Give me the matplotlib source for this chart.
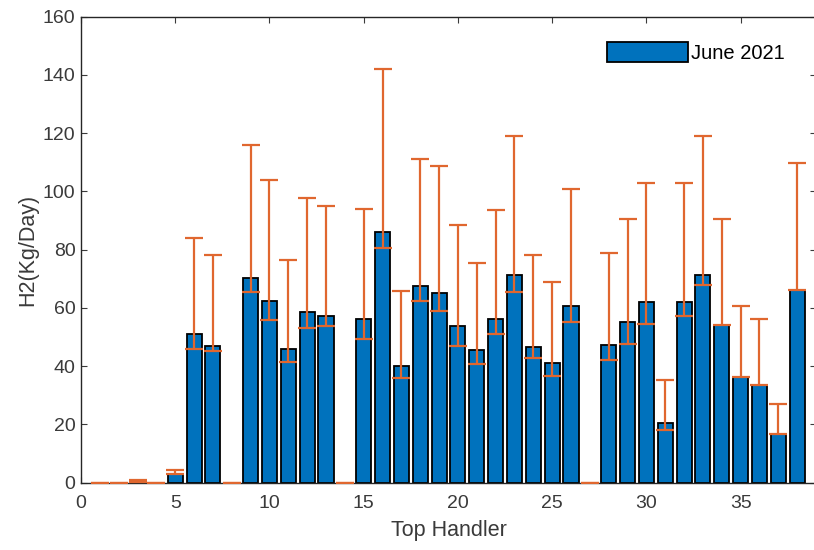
import numpy as np
import matplotlib
matplotlib.use("Agg")
import matplotlib.pyplot as plt

# handler index, mean H2 and the error-bar lower/upper bounds
handlers = np.arange(1, 39)
h2 = [0, 0, 0.6, 0, 3.0, 51, 47, 0, 70.4, 62.5,
      46, 58.6, 57.1, 0, 56.3, 86.1, 39.9, 67.4, 65.2, 53.7,
      45.4, 56.3, 71.4, 46.7, 41.2, 60.5, 0, 47.4, 55, 61.9,
      20.6, 61.9, 71.4, 54.2, 36.4, 33.6, 16.5, 66]
low = [0, -0.3, 0.3, -0.3, 2.8, 46, 45, -0.3, 65.3, 55.7,
       41.3, 53, 53.7, -0.3, 49.4, 80.6, 35.8, 62.5, 59, 46.8,
       40.6, 50.9, 65.3, 42.7, 36.5, 55, -0.3, 42, 47.5, 54.4,
       17.9, 57.1, 68, 54.2, 36.4, 33.6, 16.5, 66]
high = [0, 0, 0.9, 0, 4.3, 84, 78.3, 0, 116, 103.8,
        76.3, 97.6, 94.9, 0, 94.1, 142.1, 65.9, 111.2, 108.6, 88.6,
        75.5, 93.5, 118.9, 78.3, 68.8, 100.9, 0, 79, 90.6, 103,
        35.1, 103, 118.9, 90.6, 60.5, 56.3, 26.8, 109.9]

h2 = np.array(h2)
yerr = [np.clip(h2 - np.array(low), 0, None), np.clip(np.array(high) - h2, 0, None)]

plt.rcParams["font.family"] = ["Liberation Sans", "DejaVu Sans"]
txt_col = "#3a3a3a"

fig = plt.figure(figsize=(8.14, 5.5), dpi=100)
ax = fig.add_axes([0.0995, 0.1227, 0.903, 0.847])

ax.bar(handlers, h2, width=0.8, color="#0072BD", edgecolor="black",
       linewidth=1.3, label="June 2021", zorder=2)
ax.errorbar(handlers, h2, yerr=yerr, fmt="none", ecolor="#E0672F",
            elinewidth=1.6, capsize=6.5, capthick=1.6, zorder=3)

ax.set_xlim(0, 39)
ax.set_ylim(0, 160)
ax.set_xticks(np.arange(0, 40, 5))
ax.set_yticks(np.arange(0, 161, 20))
ax.tick_params(direction="in", top=True, right=True, labelsize=14,
               colors=txt_col, length=4, width=0.8)
ax.tick_params(axis="x", pad=9)
ax.tick_params(axis="y", pad=4)
for s in ax.spines.values():
    s.set_color("#262626")
    s.set_linewidth(1.0)

ax.set_xlabel("Top Handler", fontsize=15.5, color=txt_col, labelpad=6)
ax.set_ylabel("H2(Kg/Day)", fontsize=15.5, color=txt_col, labelpad=3)

ax.legend(loc="upper left", bbox_to_anchor=(0.716, 0.945), frameon=False,
          fontsize=14.5, handlelength=4.0, handleheight=1.1,
          handletextpad=0.15, borderpad=0, borderaxespad=0)

plt.savefig("out.png", dpi=100)
